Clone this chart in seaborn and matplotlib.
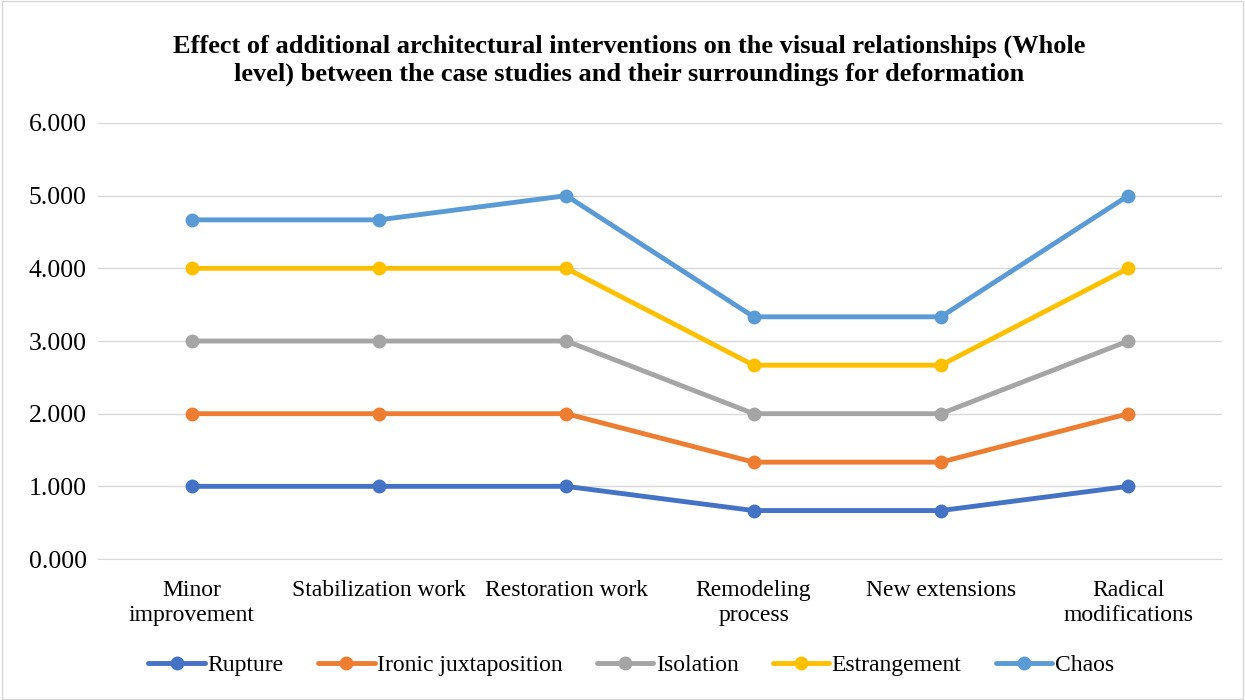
import numpy as np
import pandas as pd
import seaborn as sns
import matplotlib.pyplot as plt

# ---------------- data (values as plotted) ----------------
categories = ["Minor\nimprovement", "Stabilization work", "Restoration work",
              "Remodeling\nprocess", "New extensions", "Radical\nmodifications"]
series_names = ["Rupture", "Ironic juxtaposition", "Isolation", "Estrangement", "Chaos"]
rupture = [1.0, 1.0, 1.0, 0.667, 0.667, 1.0]
ironic = [2.0, 2.0, 2.0, 1.333, 1.333, 2.0]
isolation = [3.0, 3.0, 3.0, 2.0, 2.0, 3.0]
estrangement = [4.0, 4.0, 4.0, 2.667, 2.667, 4.0]
chaos = [4.667, 4.667, 5.0, 3.333, 3.333, 5.0]
colors = ["#4472C4", "#ED7D31", "#A5A5A5", "#FFC000", "#5B9BD5"]

df = pd.DataFrame({
    "category": categories * 5,
    "series": [s for s in series_names for _ in categories],
    "value": rupture + ironic + isolation + estrangement + chaos,
})
df["x"] = df["category"].map({c: i for i, c in enumerate(categories)})

sns.set_style("white")
plt.rcParams['font.family'] = ['Liberation Serif', 'DejaVu Serif']
plt.rcParams['text.color'] = 'black'
plt.rcParams['xtick.color'] = 'black'
plt.rcParams['ytick.color'] = 'black'

fig = plt.figure(figsize=(12.45, 7), dpi=100)
ax = fig.add_axes([0.0787, 0.2014, 0.9028, 0.6229])

sns.lineplot(data=df, x="x", y="value", hue="series", hue_order=series_names,
             palette=colors, marker="o", markersize=10, markeredgewidth=0,
             linewidth=3.5, ax=ax, legend=True, zorder=3)

ax.set_xlim(-0.5, 5.5)
ax.set_ylim(0, 6)
ax.set_yticks(np.arange(0, 7, 1))
ax.set_yticklabels([f"{v:.3f}" for v in range(7)], fontsize=18.5)
ax.set_xticks(range(len(categories)))
ax.set_xticklabels(categories, fontsize=17, linespacing=1.28)
ax.tick_params(axis='x', length=0, pad=15)
ax.tick_params(axis='y', length=0, pad=8)
ax.grid(axis='y', color='#D9D9D9', linewidth=1)
ax.set_axisbelow(True)
for s in ['top', 'right', 'left']:
    ax.spines[s].set_visible(False)
ax.spines['bottom'].set_color('#D9D9D9')
ax.set_xlabel("")
ax.set_ylabel("")

fig.text(0.505, 0.951,
         "Effect of additional architectural interventions on the visual relationships (Whole\n"
         "level) between the case studies and their surroundings for deformation",
         ha='center', va='top', fontsize=19, fontweight='bold', linespacing=1.27)

handles, labels = ax.get_legend_handles_labels()
ax.legend(handles, labels, loc='center', bbox_to_anchor=(0.507, 0.05),
          bbox_transform=fig.transFigure, ncol=5, frameon=False, fontsize=17,
          handlelength=2.4, handletextpad=0.1, columnspacing=1.45)

# chart border
fig.patches.append(plt.Rectangle((0.002, 0.002), 0.996, 0.996, transform=fig.transFigure,
                                 fill=False, edgecolor='#D9D9D9', linewidth=1))

plt.savefig("out.png", dpi=100)
plt.close()
